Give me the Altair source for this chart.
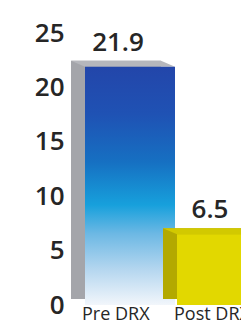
import altair as alt
import pandas as pd

categories = ["Pre DRX", "Post DRX"]
values = [21.9, 6.5]
labels = ["21.9", "6.5"]
y_ticks = [0, 5, 10, 15, 20, 25]

df = pd.DataFrame({"cat": categories, "val": values, "lab": labels})

FONT = "Open Sans"
TXT = "#262626"
BAR_W = 90
DX, DY = -14, -6

x_enc = alt.X("cat:N", sort=categories,
              scale=alt.Scale(domain=categories, range=[14, 198], paddingInner=0, paddingOuter=0),
              axis=alt.Axis(title=None, labelAngle=0, labelAlign="left", labelOffset=-48,
                            labelBaseline="alphabetic", labelFontSize=18, labelFont=FONT,
                            labelFontWeight=500, labelColor=TXT, labelPadding=14,
                            domain=False, ticks=False, grid=False))
y_enc = alt.Y("val:Q", scale=alt.Scale(domain=[0, 25], nice=False, zero=True),
              axis=alt.Axis(title=None, values=y_ticks, labelFontSize=26, labelFont=FONT,
                            labelFontWeight=600, labelColor=TXT, labelPadding=6,
                            domain=False, ticks=False, grid=False))

base = alt.Chart(df).encode(x=x_enc, y=y_enc)

top_shape = "M -0.75 0 L 0.75 0 L 0.5167 -0.1 L -0.9833 -0.1 Z"

blue_grad = alt.Gradient(gradient="linear", x1=0, x2=0, y1=0, y2=1, stops=[
    alt.GradientStop(color="#2346aa", offset=0),
    alt.GradientStop(color="#1f52b4", offset=0.2),
    alt.GradientStop(color="#1670c2", offset=0.4),
    alt.GradientStop(color="#17a0dc", offset=0.58),
    alt.GradientStop(color="#6cb8e4", offset=0.7),
    alt.GradientStop(color="#b4d6ef", offset=0.85),
    alt.GradientStop(color="#f2f6fb", offset=1),
])

def bar_layers(cat, side, top, front):
    f = alt.datum.cat == cat
    back = base.mark_bar(size=BAR_W, color=side, xOffset=DX, x2Offset=DX,
                         yOffset=DY, y2Offset=DY).transform_filter(f)
    topf = base.mark_point(shape=top_shape, size=14400, filled=True, fill=top,
                           opacity=1, strokeWidth=0).transform_filter(f)
    fr = base.mark_bar(size=BAR_W, color=front).transform_filter(f)
    return [back, topf, fr]

layers = []
layers += bar_layers("Pre DRX", "#a4a5aa", "#b6b7bc", blue_grad)
layers += bar_layers("Post DRX", "#b3a900", "#d2c900", "#e2d800")

text = base.mark_text(font=FONT, fontSize=26, fontWeight=600, color=TXT,
                      baseline="bottom", dx=-12, dy=-11).encode(text="lab:N")
layers.append(text)

chart = alt.layer(*layers).properties(
    width=171, height=272,
    padding={"left": 62, "top": 25, "right": 0, "bottom": 19},
    autosize=alt.AutoSizeParams(type="none"),
).configure_view(stroke=None)

chart.save("out.html", embed_options={"renderer": "svg", "actions": False})
